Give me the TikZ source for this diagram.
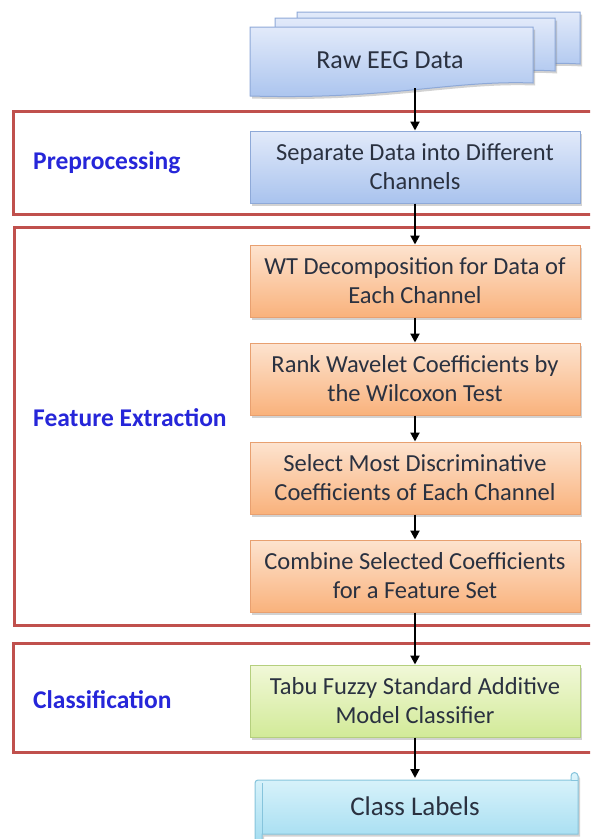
\documentclass[tikz,border=0pt]{standalone}
\usepackage{fontspec}
\setmainfont{Carlito}
\usetikzlibrary{shadows,arrows.meta}
\definecolor{framered}{HTML}{C0504D}
\definecolor{lblblue}{HTML}{2626D9}
\definecolor{bluetop}{HTML}{E2EAFA}
\definecolor{bluebot}{HTML}{A9C3EE}
\definecolor{blueline}{HTML}{8EA9D8}
\definecolor{orgtop}{HTML}{FDE3CF}
\definecolor{orgbot}{HTML}{F9B27C}
\definecolor{orgline}{HTML}{E8A070}
\definecolor{grntop}{HTML}{F1F8D8}
\definecolor{grnbot}{HTML}{D2EA98}
\definecolor{grnline}{HTML}{B5CF7E}
\definecolor{cyantop}{HTML}{DDF4FB}
\definecolor{cyanbot}{HTML}{A3DDF1}
\definecolor{cyanline}{HTML}{86C4DC}
\definecolor{txtdark}{HTML}{2A3140}
\tikzset{
  frame/.style={draw=framered, line width=3pt},
  procbox/.style={rectangle, minimum width=330pt, minimum height=72pt, align=center,
     font=\fontsize{24.5}{29}\selectfont, text=txtdark, line width=1pt, inner sep=2pt,
     drop shadow={shadow xshift=2pt, shadow yshift=-2.5pt, opacity=0.35}},
  bluebox/.style={procbox, draw=blueline, top color=bluetop, bottom color=bluebot},
  orgbox/.style={procbox, draw=orgline, top color=orgtop, bottom color=orgbot},
  grnbox/.style={procbox, draw=grnline, top color=grntop, bottom color=grnbot},
  stagelbl/.style={font=\fontsize{25.5}{30}\selectfont\bfseries, text=lblblue, anchor=west, inner sep=0pt},
  flow/.style={-{Triangle[length=9pt,width=9pt]}, line width=2pt, black},
  docpage/.style={draw=blueline, line width=1pt, top color=bluetop, bottom color=bluebot,
     drop shadow={shadow xshift=2pt, shadow yshift=-2.5pt, opacity=0.35}}
}
\begin{document}
\begin{tikzpicture}[x=1pt,y=-1pt]
\useasboundingbox (0,0) rectangle (590,839);
\fill[white] (0,0) rectangle (590,839);
\clip (0,0) rectangle (590,839);

% stage frames
\draw[frame] (13,111) rectangle (610,214);
\draw[frame] (14,227) rectangle (610,625);
\draw[frame] (13,643) rectangle (610,752);

% stage labels
\node[stagelbl] (lpre) at (33,163) {Preprocessing};
\node[stagelbl] (lfeat) at (33,418) {Feature Extraction};
\node[stagelbl] (lcls) at (33,700) {Classification};

% raw EEG data multi-document
\path[docpage] (297,12) -- (580,12) -- (580,64) .. controls (520,60) and (470,76) .. (297,70) -- cycle;
\path[docpage] (275,18) -- (555,18) -- (555,71) .. controls (495,67) and (445,84) .. (275,77) -- cycle;
\path[docpage] (250,27) -- (533,27) -- (533,83) .. controls (450,80) and (390,100) .. (250,96) -- cycle;
\node[font=\fontsize{26}{30}\selectfont, text=txtdark] (raw) at (390,60) {Raw EEG Data};
\coordinate (rawb) at (415,88);

% process boxes
\node[bluebox] (sep) at (415,167) {Separate Data into Different\\Channels};
\node[orgbox] (wt) at (415,281) {WT Decomposition for Data of\\Each Channel};
\node[orgbox] (rank) at (415,379) {Rank Wavelet Coefficients by\\the Wilcoxon Test};
\node[orgbox] (sel) at (415,478) {Select Most Discriminative\\Coefficients of Each Channel};
\node[orgbox] (comb) at (415,576) {Combine Selected Coefficients\\for a Feature Set};
\node[grnbox] (tfsam) at (415,701) {Tabu Fuzzy Standard Additive\\Model Classifier};

% class labels scroll
\path[draw=cyanline, line width=1pt, top color=cyantop, bottom color=cyanbot,
      drop shadow={shadow xshift=2pt, shadow yshift=-2.5pt, opacity=0.35}]
  (258,780) -- (571,780) -- (571,776) arc[start angle=180, end angle=0, radius=3.5pt]
  -- (578,834) -- (262,834) -- (262,840) arc[start angle=0, end angle=-180, radius=3.5pt]
  -- (255,783) arc[start angle=180, end angle=90, radius=3pt] -- cycle;
\draw[cyanline, line width=0.8pt] (571,780) -- (578,780);
\draw[cyanline, line width=0.8pt] (262,783) -- (262,834);
\node[font=\fontsize{27}{31}\selectfont, text=txtdark] (cls) at (415,806) {Class Labels};
\coordinate (clstop) at (415,778);

% connectors
\draw[flow] (rawb) -- (sep.north);
\draw[flow] (sep.south) -- (wt.north);
\draw[flow] (wt.south) -- (rank.north);
\draw[flow] (rank.south) -- (sel.north);
\draw[flow] (sel.south) -- (comb.north);
\draw[flow] (comb.south) -- (tfsam.north);
\draw[flow] (tfsam.south) -- (clstop);
\end{tikzpicture}
\end{document}
